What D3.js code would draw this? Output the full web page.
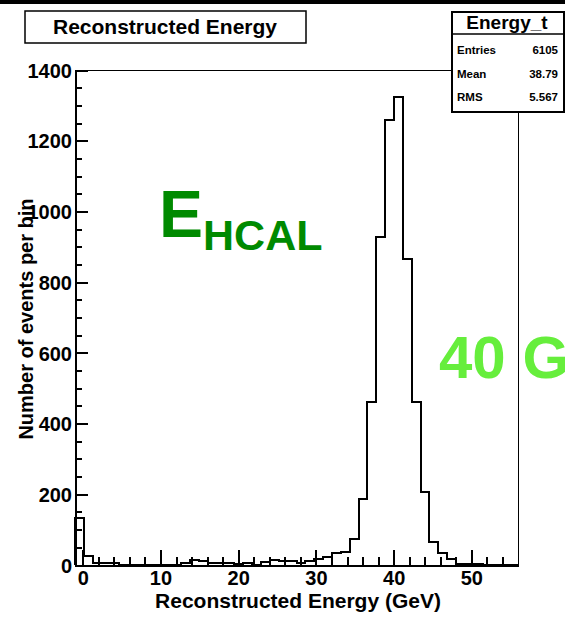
<html>
<head>
  <script src="https://d3js.org/d3.v7.min.js"></script>
  <style>
    body { margin:0; background:#fff; }
    text { font-family: "Liberation Sans", Arial, sans-serif; font-weight: bold; }
  </style>
</head>
<body>
<script>
// histogram: 50 bins between -1 and 56 GeV
var binLow = -1, binHigh = 56
var counts = [132, 26, 6, 6, 5, 0, 0, 0, 0, 0,
              0, 0, 5, 15, 10, 6, 5, 5, 3, 5,
              1, 8, 15, 11, 10, 6, 11, 16, 22, 33,
              38, 73, 186, 462, 928, 1260, 1324, 865, 462, 206,
              66, 33, 16, 3, 3, 2, 0, 0, 0, 0]
var yTicks = [0, 200, 400, 600, 800, 1000, 1200, 1400]
var yMinor = d3.range(50, 1400, 50).filter(v => v % 200 != 0)
var xTicks = [0, 10, 20, 30, 40, 50]
var xMinor = d3.range(2, 56, 2).filter(v => v % 10 != 0)
var statNames = ['Entries', 'Mean', 'RMS']
var statValues = ['6105', '38.79', '5.567']

var W = 565, H = 626
var margin = {top: 70, bottom: 61, left: 75, right: 47}

var svg = d3.select('body').append('svg').attr('width', W).attr('height', H)

var escalaX = d3.scaleLinear().domain([binLow, binHigh]).range([margin.left, W - margin.right])
var escalaY = d3.scaleLinear().domain([0, 1400]).range([H - margin.bottom, margin.top])

// black strip at top
svg.append('rect').attr('x', 0).attr('y', 0).attr('width', W).attr('height', 4).attr('fill', '#000')

// frame
svg.append('rect')
  .attr('x', escalaX(binLow)).attr('y', escalaY(1400))
  .attr('width', escalaX(binHigh) - escalaX(binLow)).attr('height', escalaY(0) - escalaY(1400))
  .attr('fill', 'none').attr('stroke', '#000').attr('stroke-width', 1).attr('shape-rendering', 'crispEdges')

// histogram outline
var ancho = (binHigh - binLow) / counts.length
var puntos = [[binLow, 0]]
counts.forEach((c, i) => puntos.push([binLow + i * ancho, c]))
puntos.push([binHigh, counts[counts.length - 1]])
puntos.push([binHigh, 0])
var linea = d3.line().x(d => escalaX(d[0])).y(d => escalaY(d[1])).curve(d3.curveStepAfter)
svg.append('path').attr('d', linea(puntos))
  .attr('fill', 'none').attr('stroke', '#000').attr('stroke-width', 2).attr('shape-rendering', 'crispEdges')

// y axis
var ejeY = svg.append('g').attr('transform', 'translate(' + margin.left + ',0)')
  .call(d3.axisLeft(escalaY).tickValues(yTicks).tickFormat(d3.format('d')).tickSize(-13).tickSizeOuter(0).tickPadding(3))
ejeY.append('g').call(d3.axisLeft(escalaY).tickValues(yMinor).tickSize(-7).tickSizeOuter(0).tickFormat(''))
ejeY.selectAll('text').attr('font-size', 20).attr('fill', '#000').attr('dy', '0.36em')
ejeY.selectAll('line,path').attr('stroke', '#000').attr('stroke-width', 2).attr('shape-rendering', 'crispEdges')

// x axis
var ejeX = svg.append('g').attr('transform', 'translate(0,' + (H - margin.bottom) + ')')
  .call(d3.axisBottom(escalaX).tickValues(xTicks).tickFormat(d3.format('d')).tickSize(-15).tickSizeOuter(0).tickPadding(6))
ejeX.append('g').call(d3.axisBottom(escalaX).tickValues(xMinor).tickSize(-8).tickSizeOuter(0).tickFormat(''))
ejeX.selectAll('text').attr('font-size', 20).attr('fill', '#000')
ejeX.selectAll('line,path').attr('stroke', '#000').attr('stroke-width', 2).attr('shape-rendering', 'crispEdges')

// axis titles
svg.append('text').attr('x', 298).attr('y', 608).attr('text-anchor', 'middle')
  .attr('font-size', 21).text('Reconstructed Energy (GeV)')
svg.append('text').attr('transform', 'translate(33,319) rotate(-90)').attr('text-anchor', 'middle')
  .attr('font-size', 20).text('Number of events per bin')

// title box
svg.append('rect').attr('x', 25).attr('y', 11).attr('width', 281).attr('height', 32)
  .attr('fill', '#fff').attr('stroke', '#000').attr('stroke-width', 1.5)
svg.append('text').attr('x', 165).attr('y', 34).attr('text-anchor', 'middle')
  .attr('font-size', 21).text('Reconstructed Energy')

// stats box
var caja = svg.append('g')
caja.append('rect').attr('x', 452).attr('y', 12).attr('width', 112).attr('height', 100)
  .attr('fill', '#fff').attr('stroke', '#000').attr('stroke-width', 2)
caja.append('line').attr('x1', 452).attr('x2', 564).attr('y1', 34).attr('y2', 34)
  .attr('stroke', '#000').attr('stroke-width', 1.5)
caja.append('text').attr('x', 507).attr('y', 29).attr('text-anchor', 'middle')
  .attr('font-size', 19).text('Energy_t')
caja.selectAll('.nombre').data(statNames).enter().append('text')
  .attr('x', 457).attr('y', (d, i) => 54 + i * 23.5).attr('font-size', 11.5).text(d => d)
caja.selectAll('.valor').data(statValues).enter().append('text')
  .attr('x', 558).attr('y', (d, i) => 54 + i * 23.5).attr('text-anchor', 'end').attr('font-size', 11.5).text(d => d)

// green labels
var eh = svg.append('text').attr('x', 159).attr('y', 237).attr('fill', '#008a00')
eh.append('tspan').attr('font-size', 66).text('E')
eh.append('tspan').attr('font-size', 43).attr('dy', 13).text('HCAL')
svg.append('text').attr('x', 439).attr('y', 378).attr('fill', '#66ee3c')
  .attr('font-size', 60).text('40 GeV')
</script>
</body>
</html>
